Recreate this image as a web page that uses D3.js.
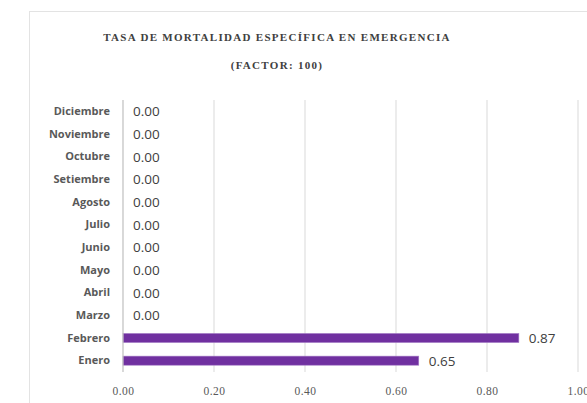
<!DOCTYPE html>
<html>
<head>
<meta charset="utf-8">
<script src="https://cdn.jsdelivr.net/npm/d3@7"></script>
<style>
  body { margin: 0; background: #fff; }
  svg { display: block; }
</style>
</head>
<body>
<svg id="chart" width="587" height="403"></svg>
<script>
const months = ["Enero", "Febrero", "Marzo", "Abril", "Mayo", "Junio", "Julio",
  "Agosto", "Setiembre", "Octubre", "Noviembre", "Diciembre"];
const rates = [0.65, 0.87, 0, 0, 0, 0, 0, 0, 0, 0, 0, 0];
const ticks = [0, 0.2, 0.4, 0.6, 0.8, 1.0];
const title = "TASA DE MORTALIDAD ESPECÍFICA EN EMERGENCIA";
const subtitle = "(FACTOR: 100)";

const svg = d3.select("#chart");

// chart frame (runs past the right and bottom edge)
svg.append("rect")
  .attr("x", 29.5).attr("y", 11.5)
  .attr("width", 600).attr("height", 420)
  .attr("fill", "#fff")
  .attr("stroke", "#e3e3e3");

const x = d3.scaleLinear().domain([0, 1]).range([123, 578]);
const y = d3.scaleBand()
  .domain(months.slice().reverse())
  .range([100, 372])
  .paddingInner(0.6).paddingOuter(0.3);

// gridlines
svg.append("g")
  .selectAll("line")
  .data(ticks.slice(1))
  .enter()
  .append("line")
  .attr("x1", d => x(d)).attr("x2", d => x(d))
  .attr("y1", 100).attr("y2", 372)
  .attr("stroke", "#d9d9d9");

const xAxis = svg.append("g")
  .attr("transform", "translate(0,372)")
  .call(d3.axisBottom(x).tickValues(ticks).tickFormat(d3.format(".2f")).tickSize(0).tickPadding(15));
xAxis.select(".domain").remove();
xAxis.selectAll("text")
  .attr("fill", "#595959")
  .style("font-family", "'Liberation Serif', serif")
  .style("font-size", "11.5px")
  .style("letter-spacing", "0.5px");

// bars
svg.append("g")
  .selectAll("rect")
  .data(months)
  .enter()
  .append("rect")
  .attr("x", x(0))
  .attr("y", d => y(d))
  .attr("width", (d, i) => x(rates[i]) - x(0))
  .attr("height", y.bandwidth())
  .attr("fill", "#7030a0")
  .attr("stroke", "#a57cc6")
  .attr("stroke-width", 0.6);

// zero axis line
svg.append("line")
  .attr("x1", x(0)).attr("x2", x(0))
  .attr("y1", 100).attr("y2", 372)
  .attr("stroke", "#bfbfbf")
  .attr("stroke-width", 1.2);

// category labels
const yAxis = svg.append("g")
  .attr("transform", `translate(${x(0)},0)`)
  .call(d3.axisLeft(y).tickSize(0).tickPadding(13));
yAxis.select(".domain").remove();
yAxis.selectAll("text")
  .attr("fill", "#595959")
  .style("font-family", "'Open Sans', sans-serif")
  .style("font-weight", "bold")
  .style("font-size", "11px");

// value labels
svg.append("g")
  .selectAll("text")
  .data(months)
  .enter()
  .append("text")
  .attr("x", (d, i) => x(rates[i]) + 10)
  .attr("y", d => y(d) + y.bandwidth() / 2)
  .attr("dy", "0.36em")
  .attr("fill", "#404040")
  .style("font-family", "'Open Sans', sans-serif")
  .style("font-size", "13.5px")
  .text((d, i) => rates[i].toFixed(2));

// titles
svg.append("text")
  .attr("x", 277).attr("y", 41)
  .attr("text-anchor", "middle")
  .attr("fill", "#404040")
  .style("font-family", "'Liberation Serif', serif")
  .style("font-size", "11px")
  .style("font-weight", "bold")
  .style("letter-spacing", "1.3px")
  .text(title);

svg.append("text")
  .attr("x", 277).attr("y", 69)
  .attr("text-anchor", "middle")
  .attr("fill", "#404040")
  .style("font-family", "'Liberation Serif', serif")
  .style("font-size", "11px")
  .style("font-weight", "bold")
  .style("letter-spacing", "1.3px")
  .text(subtitle);
</script>
</body>
</html>
